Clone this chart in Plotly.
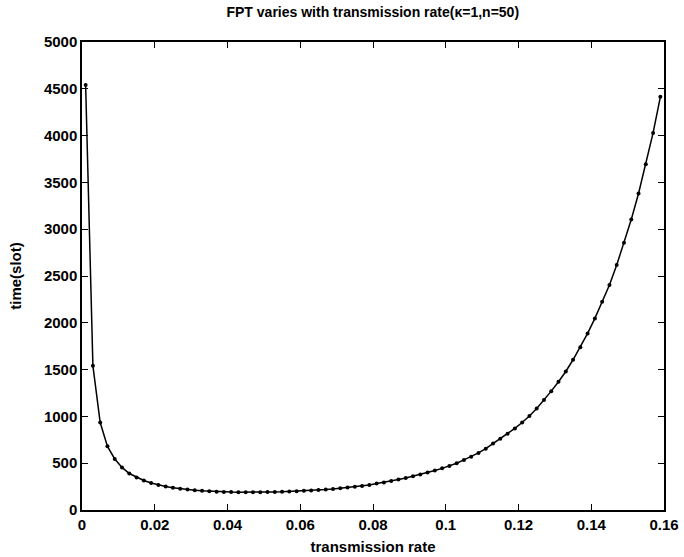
import plotly.graph_objects as go

rate = [round(0.001 + 0.002 * i, 3) for i in range(80)]
fpt = [
    4540, 1540, 935, 680, 545, 455, 390, 348, 315, 288,
    268, 252, 238, 227, 218, 211, 205, 200, 196, 193,
    191, 190, 189, 189, 190, 191, 193, 195, 198, 201,
    205, 209, 214, 219, 225, 232, 240, 248, 257, 268,
    282, 295, 310, 325, 342, 360, 380, 400, 422, 445,
    470, 500, 535, 570, 610, 655, 710, 760, 815, 872,
    935, 1004, 1085, 1175, 1270, 1370, 1480, 1605, 1740, 1887,
    2047, 2225, 2403, 2617, 2855, 3104, 3382, 3695, 4029, 4414,
]

x_ticks = [0, 0.02, 0.04, 0.06, 0.08, 0.1, 0.12, 0.14, 0.16]
x_tick_text = ["0", "0.02", "0.04", "0.06", "0.08", "0.1", "0.12", "0.14", "0.16"]
y_ticks = list(range(0, 5001, 500))

font_family = "Liberation Sans, Arial, sans-serif"

fig = go.Figure()
fig.add_trace(go.Scatter(
    x=rate, y=fpt, mode="lines+markers",
    line=dict(color="black", width=1.5),
    marker=dict(color="black", size=4),
    showlegend=False,
))

axis_common = dict(
    showgrid=False, zeroline=False, showline=True, linecolor="black", linewidth=1.5,
    mirror="ticks", ticks="inside", ticklen=6, tickwidth=1, tickcolor="black",
    automargin=False,
    tickfont=dict(family=font_family, size=15, color="black", weight="bold"),
)

fig.update_layout(
    width=684, height=557,
    margin=dict(l=82, r=20, t=42, b=47),
    paper_bgcolor="white", plot_bgcolor="white",
    title=dict(text="FPT varies with transmission rate(\u03ba=1,n=50)",
               x=0.545, xanchor="center", y=0.979, yanchor="middle",
               font=dict(family=font_family, size=14, color="black", weight="bold")),
    xaxis=dict(range=[0, 0.16], tickvals=x_ticks, ticktext=x_tick_text,
               title=dict(text="transmission rate", standoff=10,
                          font=dict(family=font_family, size=15, color="black", weight="bold")),
               **axis_common),
    yaxis=dict(range=[0, 5000], tickvals=y_ticks,
               title=dict(text="time(slot)", standoff=19,
                          font=dict(family=font_family, size=15, color="black", weight="bold")),
               **axis_common),
)

fig.write_html("out.html")
